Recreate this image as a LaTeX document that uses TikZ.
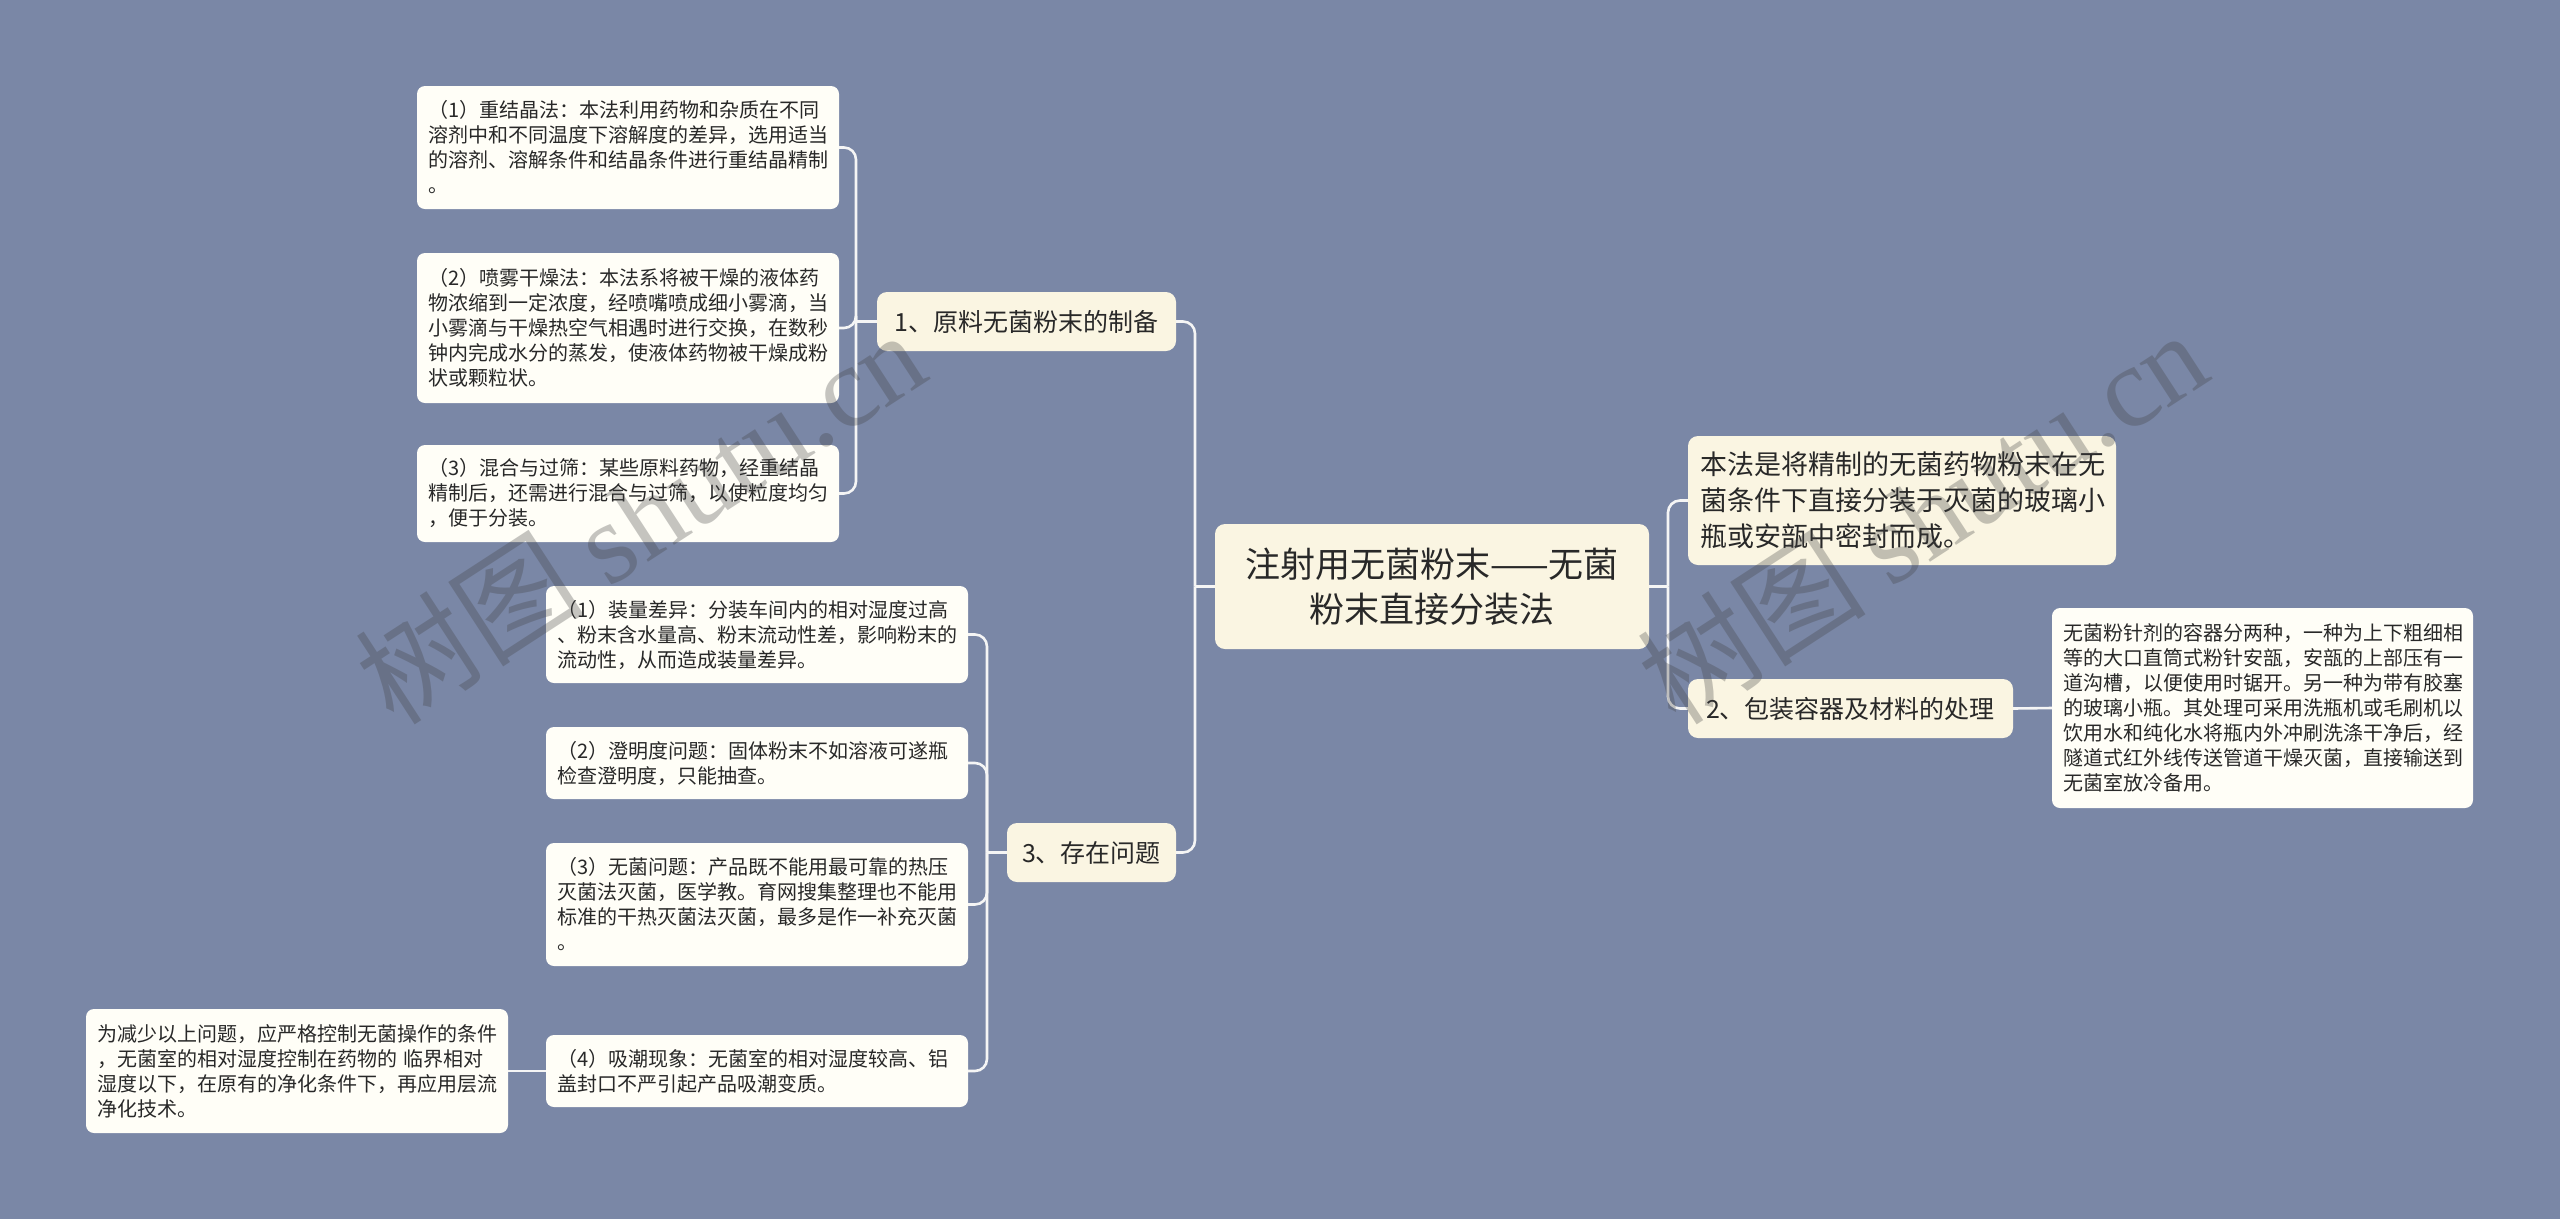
\documentclass[tikz,border=0pt]{standalone}
\usepackage{fontspec}
\setmainfont{Noto Sans CJK SC}
\newfontfamily\wmlatin{Liberation Serif}
\definecolor{bgc}{RGB}{122,135,166}
\definecolor{leafc}{RGB}{255,254,247}
\definecolor{mainc}{RGB}{250,245,226}
\definecolor{connc}{RGB}{245,245,245}
\definecolor{txt}{RGB}{40,40,40}
\begin{document}
\begin{tikzpicture}[x=1pt,y=-1pt,
  conn/.style={draw=connc, line width=2.6pt, rounded corners=12pt},
  leaf/.style={fill=leafc, rounded corners=8pt, text=txt, align=left, inner xsep=11pt, inner ysep=0pt,
    font=\fontsize{20}{25}\selectfont, text width=400pt, minimum height=#1},
  topic/.style={fill=mainc, rounded corners=10pt, text=txt, align=center, inner xsep=0pt, inner ysep=0pt,
    font=\fontsize{25}{30}\selectfont, minimum height=59pt, minimum width=#1},
  wm/.style={text=black!75, opacity=0.3, rotate=33, inner sep=0pt}
]
\useasboundingbox (0,0) rectangle (2560,1219);
\fill[bgc] (0,0) rectangle (2560,1219);

% central
\node[fill=mainc, rounded corners=10pt, text=txt, align=center, inner sep=0pt,
  minimum width=434pt, minimum height=125pt, font=\fontsize{35}{45}\selectfont]
  (c) at (1432,586.5) {注射用无菌粉末——无菌\\粉末直接分装法};

% right side
\node[fill=mainc, rounded corners=10pt, text=txt, align=left, inner xsep=12pt, inner ysep=0pt,
  text width=404pt, minimum height=129pt, font=\fontsize{27}{36}\selectfont]
  (r1) at (1902,500.5) {本法是将精制的无菌药物粉末在无\\菌条件下直接分装于灭菌的玻璃小\\瓶或安瓿中密封而成。};
\node[topic=325pt] (n2) at (1850.5,708.5) {2、包装容器及材料的处理};
\node[leaf=200pt, text width=399pt] (rl) at (2262.5,708) {无菌粉针剂的容器分两种，一种为上下粗细相\\等的大口直筒式粉针安瓿，安瓿的上部压有一\\道沟槽，以便使用时锯开。另一种为带有胶塞\\的玻璃小瓶。其处理可采用洗瓶机或毛刷机以\\饮用水和纯化水将瓶内外冲刷洗涤干净后，经\\隧道式红外线传送管道干燥灭菌，直接输送到\\无菌室放冷备用。};

% left topics
\node[topic=299pt] (n1) at (1026.5,321.5) {1、原料无菌粉末的制备};
\node[topic=169pt] (n3) at (1091.5,852.5) {3、存在问题};

% children of n1
\node[leaf=123pt] (a1) at (628,147.5) {（1）重结晶法：本法利用药物和杂质在不同\\溶剂中和不同温度下溶解度的差异，选用适当\\的溶剂、溶解条件和结晶条件进行重结晶精制\\。};
\node[leaf=150pt] (a2) at (628,328) {（2）喷雾干燥法：本法系将被干燥的液体药\\物浓缩到一定浓度，经喷嘴喷成细小雾滴，当\\小雾滴与干燥热空气相遇时进行交换，在数秒\\钟内完成水分的蒸发，使液体药物被干燥成粉\\状或颗粒状。};
\node[leaf=97pt] (a3) at (628,493.5) {（3）混合与过筛：某些原料药物，经重结晶\\精制后，还需进行混合与过筛，以使粒度均匀\\，便于分装。};

% children of n3
\node[leaf=97pt] (b1) at (757,634.5) {（1）装量差异：分装车间内的相对湿度过高\\、粉末含水量高、粉末流动性差，影响粉末的\\流动性，从而造成装量差异。};
\node[leaf=72pt] (b2) at (757,763) {（2）澄明度问题：固体粉末不如溶液可遂瓶\\检查澄明度，只能抽查。};
\node[leaf=123pt] (b3) at (757,904.5) {（3）无菌问题：产品既不能用最可靠的热压\\灭菌法灭菌，医学教。育网搜集整理也不能用\\标准的干热灭菌法灭菌，最多是作一补充灭菌\\。};
\node[leaf=72pt] (b4) at (757,1071) {（4）吸潮现象：无菌室的相对湿度较高、铝\\盖封口不严引起产品吸潮变质。};
\node[leaf=124pt] (d1) at (297,1071) {为减少以上问题，应严格控制无菌操作的条件\\，无菌室的相对湿度控制在药物的 临界相对\\湿度以下，在原有的净化条件下，再应用层流\\净化技术。};

% junctions
\coordinate (jL) at (1195,586.5);
\coordinate (jR) at (1668,586.5);
\coordinate (j1) at (856,321.5);
\coordinate (j3) at (987,852.5);

% connectors
\draw[conn] (c.west) -- (jL);
\draw[conn] (jL) |- (n1.east);
\draw[conn] (jL) |- (n3.east);
\draw[conn] (c.east) -- (jR);
\draw[conn] (jR) |- (r1.west);
\draw[conn] (jR) |- (n2.west);
\draw[conn] (n2.east) -- (rl.west);
\draw[conn] (n1.west) -- (j1);
\draw[conn] (j1) |- (a1.east);
\draw[conn] (j1) |- (a2.east);
\draw[conn] (j1) |- (a3.east);
\draw[conn] (n3.west) -- (j3);
\draw[conn] (j3) |- (b1.east);
\draw[conn] (j3) |- (b2.east);
\draw[conn] (j3) |- (b3.east);
\draw[conn] (j3) |- (b4.east);
\draw[conn] (b4.west) -- (d1.east);

% watermarks
\node[wm] (w1) at (640,516) {\fontsize{115}{115}\selectfont 树图 {\wmlatin shutu.cn}};
\node[wm] (w2) at (1922,516) {\fontsize{115}{115}\selectfont 树图 {\wmlatin shutu.cn}};
\end{tikzpicture}
\end{document}
